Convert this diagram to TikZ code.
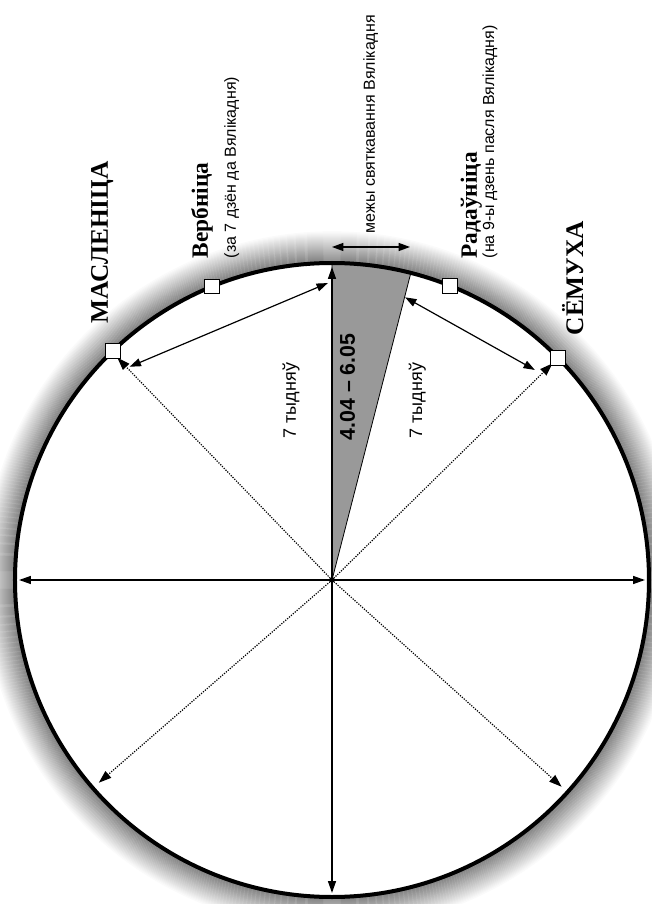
\documentclass[tikz,border=0pt]{standalone}
\usepackage{fontspec}
\setmainfont{Liberation Serif}
\setsansfont{Liberation Sans}
\usetikzlibrary{arrows.meta}
\begin{document}
\begin{tikzpicture}[x=0.75pt,y=0.75pt,
  tipline/.style={line width=1.1pt,-{Triangle[length=9pt,width=6pt]}},
  dblline/.style={line width=0.9pt,{Triangle[length=8.5pt,width=6pt]}-{Triangle[length=8.5pt,width=6pt]}},
  dotline/.style={line width=0.9pt,densely dotted,-{Triangle[length=9.5pt,width=6.5pt]}},
  marker/.style={draw,fill=white,minimum size=11pt,inner sep=0pt,line width=0.6pt},
  feast/.style={rotate=90,anchor=base west,font=\bfseries\fontsize{17.5}{20}\selectfont},
  bigfeast/.style={rotate=90,anchor=base west,font=\bfseries\fontsize{19}{22}\selectfont},
  note/.style={rotate=90,anchor=base west,font=\sffamily\fontsize{12}{14}\selectfont},
  weeks/.style={rotate=90,anchor=base west,font=\sffamily\fontsize{13.5}{16}\selectfont},
  datelbl/.style={rotate=90,anchor=base west,font=\sffamily\bfseries\fontsize{16}{18}\selectfont}
]
\useasboundingbox (-332,-324) rectangle (319,580);
\fill[white] (-332,-324) rectangle (319,580);
\coordinate (O) at (0,0);
% halo
\foreach \i [evaluate=\i as \p using {50-1.6*\i}] in {0,...,30}
  \draw[black!\p, line width=0.95pt] (O) circle[radius=318+\i];
\fill[white] (O) circle[radius=316];
% wedge
\filldraw[fill=black!40, draw=black, line width=0.6pt]
  (O) -- (75.6:317) arc[start angle=75.6, end angle=90, radius=317] -- cycle;
% points
\coordinate (top) at (90:313);
\coordinate (bottom) at (270:313);
\coordinate (left) at (180:313);
\coordinate (right) at (0:313);
\coordinate (dM) at (134:309);
\coordinate (dS) at (44.5:309);
\coordinate (dLL) at (221:309);
\coordinate (dLR) at (318:309);
\coordinate (cL1) at (133.5:294);
\coordinate (cL2) at (90.8:297);
\coordinate (cR1) at (75.5:292);
\coordinate (cR2) at (46:292);
\coordinate (bL) at (0,333);
\coordinate (bR) at (78,333);
% axes
\draw[tipline] (O) -- (top);
\draw[tipline] (O) -- (bottom);
\draw[line width=1.1pt,{Triangle[length=9pt,width=6pt]}-{Triangle[length=9pt,width=6pt]}] (left) -- (right);
% dotted radii
\draw[dotline] (O) -- (dM);
\draw[dotline] (O) -- (dS);
\draw[dotline] (O) -- (dLL);
\draw[dotline] (O) -- (dLR);
% chords
\draw[dblline] (cL1) -- (cL2);
\draw[dblline] (cR1) -- (cR2);
\draw[dblline] (bL) -- (bR);
\fill (O) circle[radius=2.5];
% circle
\draw[line width=3pt] (O) circle[radius=317];
% markers
\node[marker] (mMasl) at (133.8:317) {};
\node[marker] (mVerb) at (112.2:317) {};
\node[marker] (mRad) at (68.2:317) {};
\node[marker] (mSem) at (44.5:317) {};
% texts
\node[bigfeast] (tMasl) at (-224,252) {МАСЛЕНІЦА};
\node[feast] (tVerb) at (-124,317) {Вербніца};
\node[note] (nVerb) at (-96,317) {(за 7 дзён да Вялікадня)};
\node[note] (nMezhy) at (43,342) {межы святкавання Вялікадня};
\node[feast] (tRad) at (145,317) {Радаўніца};
\node[note] (nRad) at (162,317) {(на 9-ы дзень пасля Вялікадня)};
\node[bigfeast] (tSem) at (251,240) {СЁМУХА};
\node[weeks] (w1) at (-36,137) {7 тыдняў};
\node[datelbl] (dates) at (23,135) {4.04 – 6.05};
\node[weeks] (w2) at (90,137) {7 тыдняў};
\end{tikzpicture}
\end{document}
